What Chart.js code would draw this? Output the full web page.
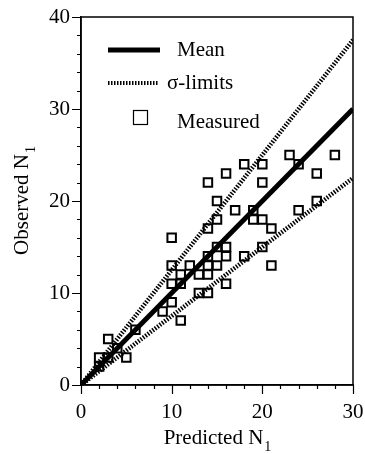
<!DOCTYPE html>
<html>
<head>
<meta charset="utf-8">
<script src="https://cdn.jsdelivr.net/npm/chart.js@4/dist/chart.umd.min.js"></script>
<style>
  html, body { margin: 0; padding: 0; background: #fff; }
  #wrap { width: 365px; height: 454px; }
</style>
</head>
<body>
<div id="wrap"><canvas id="myChart" width="365" height="454"></canvas></div>
<script>
// measured points
var predicted = [28, 23, 24, 26, 26, 24, 18, 20, 20, 16, 14, 15, 17, 19, 19, 20, 21, 15, 14, 10,
                 16, 20, 18, 16, 21, 15, 14, 14, 15, 13, 14, 12, 10, 11, 11, 10, 13, 14, 16, 10,
                 9, 11, 6, 3, 2, 5, 3, 4, 2];
var observed  = [25, 25, 24, 23, 20, 19, 24, 24, 22, 23, 22, 20, 19, 19, 18, 18, 17, 18, 17, 16,
                 15, 15, 14, 14, 13, 15, 14, 13, 13, 12, 12, 13, 13, 12, 11, 11, 10, 10, 11, 9,
                 8, 7, 6, 5, 3, 3, 3, 4, 2];

// line end points
var lineX     = [0, 30];
var meanY     = [0, 30];
var upperY    = [0, 37.5];
var lowerY    = [0, 22.5];

var serif = '"Liberation Serif", "DejaVu Serif", serif';

function toXY(xs, ys) {
    var out = [];
    for (var i = 0; i < xs.length; i++) out.push({x: xs[i], y: ys[i]});
    return out;
}

// draws the box, tick marks, the legend and the axis titles (with subscript)
var extras = {
    id: 'extras',
    afterDraw: function(chart) {
        var ctx = chart.ctx, a = chart.chartArea;
        var xs = chart.scales.x, ys = chart.scales.y;
        ctx.save();
        ctx.strokeStyle = '#000';
        ctx.fillStyle = '#000';
        ctx.lineWidth = 1.5;
        ctx.strokeRect(a.left, a.top, a.right - a.left, a.bottom - a.top);

        // tick marks: long on multiples of 10, short otherwise
        ctx.lineWidth = 1.2;
        ctx.beginPath();
        xs.ticks.forEach(function(t) {
            var px = Math.round(xs.getPixelForValue(t.value)) + 0.5;
            var len = t.value % 10 === 0 ? 9 : 4;
            ctx.moveTo(px, a.bottom); ctx.lineTo(px, a.bottom + len);
        });
        ys.ticks.forEach(function(t) {
            var py = Math.round(ys.getPixelForValue(t.value)) + 0.5;
            var len = t.value % 10 === 0 ? 9 : 4;
            ctx.moveTo(a.left, py); ctx.lineTo(a.left - len, py);
        });
        ctx.stroke();

        // legend
        ctx.font = '21px ' + serif;
        ctx.textBaseline = 'alphabetic';
        ctx.lineWidth = 5;
        ctx.beginPath(); ctx.moveTo(108, 50); ctx.lineTo(160, 50); ctx.stroke();
        ctx.fillText('Mean', 177, 56);
        ctx.setLineDash([1.5, 1.5]);
        ctx.lineWidth = 4;
        ctx.beginPath(); ctx.moveTo(108, 83); ctx.lineTo(158, 83); ctx.stroke();
        ctx.setLineDash([]);
        ctx.fillText('\u03c3-limits', 167, 89);
        ctx.lineWidth = 1.2;
        ctx.strokeRect(133.5, 110.5, 14, 14);
        ctx.fillText('Measured', 177, 128);

        // x title
        ctx.font = '21px ' + serif;
        var t = 'Predicted N', w = ctx.measureText(t).width;
        ctx.font = '14px ' + serif;
        var ws = ctx.measureText('1').width;
        var cx = (a.left + a.right) / 2, x0 = cx - (w + ws) / 2;
        ctx.font = '21px ' + serif;
        ctx.fillText(t, x0, 444);
        ctx.font = '14px ' + serif;
        ctx.fillText('1', x0 + w + 1, 451);

        // y title
        ctx.translate(28, (a.top + a.bottom) / 2);
        ctx.rotate(-Math.PI / 2);
        ctx.font = '21px ' + serif;
        t = 'Observed N'; w = ctx.measureText(t).width;
        x0 = -(w + ws) / 2;
        ctx.fillText(t, x0, 0);
        ctx.font = '14px ' + serif;
        ctx.fillText('1', x0 + w + 1, 7);
        ctx.restore();
    }
};

function tickLabel(v) {
    return v % 10 === 0 ? String(v) : '';
}

var config = {
    data: {
        datasets: [
            {
                type: 'line',
                label: 'Mean',
                data: toXY(lineX, meanY),
                borderColor: '#000',
                borderWidth: 5,
                pointRadius: 0,
                fill: false
            },
            {
                type: 'line',
                label: 'sigma upper',
                data: toXY(lineX, upperY),
                borderColor: '#000',
                borderWidth: 4.5,
                borderDash: [1.5, 1.5],
                pointRadius: 0,
                fill: false
            },
            {
                type: 'line',
                label: 'sigma lower',
                data: toXY(lineX, lowerY),
                borderColor: '#000',
                borderWidth: 4.5,
                borderDash: [1.5, 1.5],
                pointRadius: 0,
                fill: false
            },
            {
                type: 'scatter',
                label: 'Measured',
                data: toXY(predicted, observed),
                pointStyle: 'rect',
                pointRadius: 6,
                borderColor: '#000',
                borderWidth: 2,
                backgroundColor: 'rgba(255,255,255,0)'
            }
        ]
    },
    options: {
        responsive: false,
        animation: false,
        layout: { padding: { left: 0, top: 17, right: 12, bottom: 0 } },
        plugins: { legend: { display: false }, tooltip: { enabled: false } },
        scales: {
            x: {
                type: 'linear',
                min: 0, max: 30,
                afterFit: function(s) { s.height = 69; s.paddingRight = 0; },
                ticks: { stepSize: 2, autoSkip: false, maxRotation: 0, callback: tickLabel,
                         color: '#000', font: { family: serif, size: 21 }, padding: 6 },
                grid: { drawOnChartArea: false, drawTicks: true, tickLength: 9, color: 'rgba(0,0,0,0)' },
                border: { display: true, color: '#000', width: 1.5 }
            },
            y: {
                type: 'linear',
                min: 0, max: 40,
                afterFit: function(s) { s.width = 81; },
                ticks: { stepSize: 2, autoSkip: false, callback: tickLabel,
                         color: '#000', font: { family: serif, size: 21 }, padding: 2 },
                grid: { drawOnChartArea: false, drawTicks: true, tickLength: 9, color: 'rgba(0,0,0,0)' },
                border: { display: true, color: '#000', width: 1.5 }
            }
        }
    },
    plugins: [extras]
};

var myChart = new Chart(document.getElementById('myChart'), config);
</script>
</body>
</html>
